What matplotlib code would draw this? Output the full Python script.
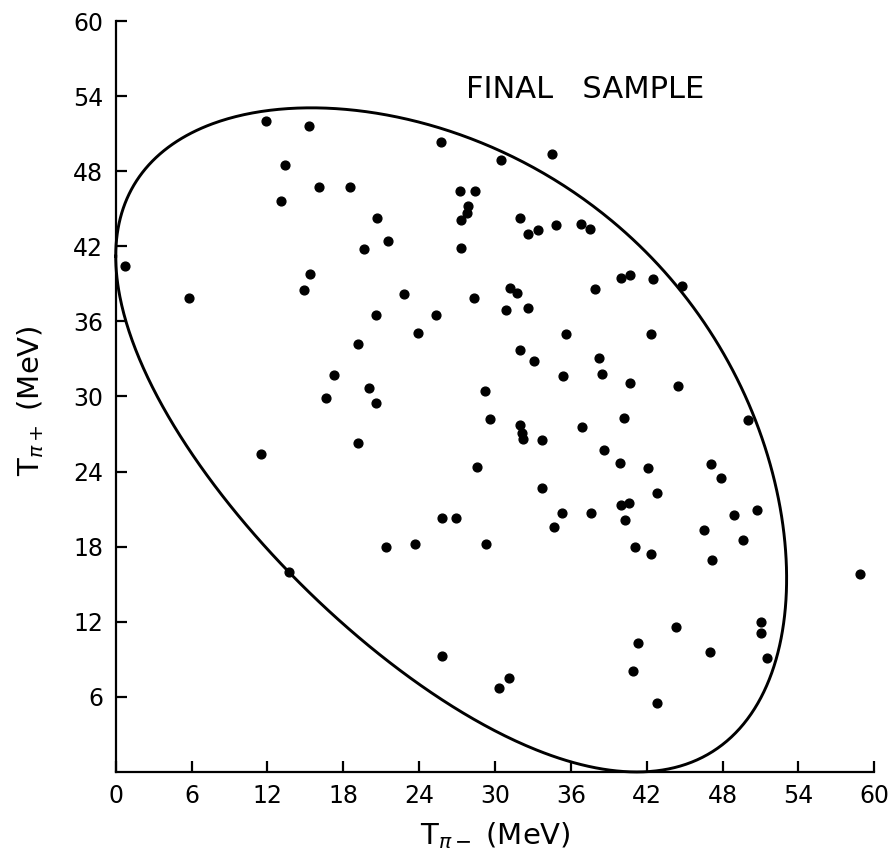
import numpy as np
import matplotlib
matplotlib.use('Agg')
import matplotlib.pyplot as plt

# masses (MeV) for K_L -> pi+ pi- pi0, used for the kinematic boundary
M_K = 497.6
M_PIC = 139.57
M_PI0 = 134.98

# events
t_minus = [11.9, 15.3, 13.4, 16.1, 18.5, 13.1, 19.6, 0.7, 15.4, 14.9,
           5.8, 19.2, 17.3, 20.0, 16.6, 25.7, 30.5, 34.5, 27.2, 28.4,
           27.9, 27.8, 20.7, 27.3, 32.0, 36.8, 37.5, 34.8, 33.4, 32.6,
           21.5, 27.3, 40.0, 40.7, 37.9, 31.2, 31.7, 22.8, 28.3, 20.6,
           25.3, 30.9, 32.6, 23.9, 35.6, 32.0, 33.1, 38.2, 38.5, 35.4,
           20.6, 29.2, 42.5, 44.8, 42.3, 40.7, 44.5, 11.5, 19.2, 29.6,
           32.0, 32.1, 32.2, 33.7, 36.9, 40.2, 38.6, 39.9, 28.6, 33.7,
           25.8, 26.9, 35.3, 37.6, 40.0, 40.3, 34.7, 21.4, 23.7, 29.3,
           25.8, 31.1, 30.3, 50.0, 42.1, 47.1, 47.9, 42.8, 40.6, 48.9,
           50.7, 46.5, 49.6, 41.1, 42.3, 47.2, 58.9, 44.3, 51.0, 51.0,
           41.3, 47.0, 51.5, 40.9, 42.8, 13.7]
t_plus = [52.0, 51.6, 48.5, 46.7, 46.7, 45.6, 41.8, 40.4, 39.8, 38.5,
          37.9, 34.2, 31.7, 30.7, 29.9, 50.3, 48.9, 49.4, 46.4, 46.4,
          45.2, 44.7, 44.3, 44.1, 44.3, 43.8, 43.4, 43.7, 43.3, 43.0,
          42.4, 41.9, 39.5, 39.7, 38.6, 38.7, 38.3, 38.2, 37.9, 36.5,
          36.5, 36.9, 37.1, 35.1, 35.0, 33.7, 32.8, 33.1, 31.8, 31.6,
          29.5, 30.4, 39.4, 38.8, 35.0, 31.1, 30.8, 25.4, 26.3, 28.2,
          27.7, 27.1, 26.6, 26.5, 27.6, 28.3, 25.7, 24.7, 24.4, 22.7,
          20.3, 20.3, 20.7, 20.7, 21.3, 20.1, 19.6, 18.0, 18.2, 18.2,
          9.3, 7.5, 6.7, 28.1, 24.3, 24.6, 23.5, 22.3, 21.5, 20.5,
          20.9, 19.3, 18.5, 18.0, 17.4, 16.9, 15.8, 11.6, 12.0, 11.1,
          10.3, 9.6, 9.1, 8.1, 5.5, 16.0]

x_ticks = [0, 6, 12, 18, 24, 30, 36, 42, 48, 54, 60]
y_ticks = [6, 12, 18, 24, 30, 36, 42, 48, 54, 60]


def dalitz_edge(n=400):
    # T+ range for each T-, from two-body kinematics of the pi+ pi0 pair
    tmax = (M_K**2 + M_PIC**2 - (M_PIC + M_PI0)**2) / (2 * M_K) - M_PIC
    u = np.linspace(0, np.pi, n)
    tm = tmax * (1 - np.cos(u)) / 2
    e = tm + M_PIC
    p = np.sqrt(np.clip(e**2 - M_PIC**2, 0, None))
    s = M_K**2 + M_PIC**2 - 2 * M_K * e
    rs = np.sqrt(s)
    es = (s + M_PIC**2 - M_PI0**2) / (2 * rs)
    ps = np.sqrt(np.clip(es**2 - M_PIC**2, 0, None))
    g = (M_K - e) / rs
    bg = p / rs
    hi = g * es + bg * ps - M_PIC
    lo = g * es - bg * ps - M_PIC
    return np.concatenate([tm, tm[::-1]]), np.concatenate([hi, lo[::-1]])


fig = plt.figure(figsize=(8.95, 8.61), dpi=100)
ax = fig.add_axes([0.1293, 0.1034, 0.8476, 0.8722])

ex, ey = dalitz_edge()
ax.plot(ex, ey, color='black', lw=2.1, clip_on=False)
ax.scatter(t_minus, t_plus, s=40, color='black', zorder=3, clip_on=False)

ax.set_xlim(0, 60)
ax.set_ylim(0, 60)
ax.set_xticks(x_ticks)
ax.set_yticks(y_ticks)
ax.spines['top'].set_visible(False)
ax.spines['right'].set_visible(False)
for sp in ('left', 'bottom'):
    ax.spines[sp].set_linewidth(1.6)
ax.tick_params(direction='in', length=8, width=1.6, labelsize=17, pad=9)

ax.text(37.1, 54.55, 'FINAL   SAMPLE', ha='center', va='center', fontsize=22)
fig.text(0.553, 0.029, r'T$_{\pi -}$ (MeV)', ha='center', va='center', fontsize=21)
fig.text(0.034, 0.535, r'T$_{\pi +}$ (MeV)', ha='center', va='center',
         fontsize=21, rotation=90)

fig.savefig('out.png', dpi=100)
